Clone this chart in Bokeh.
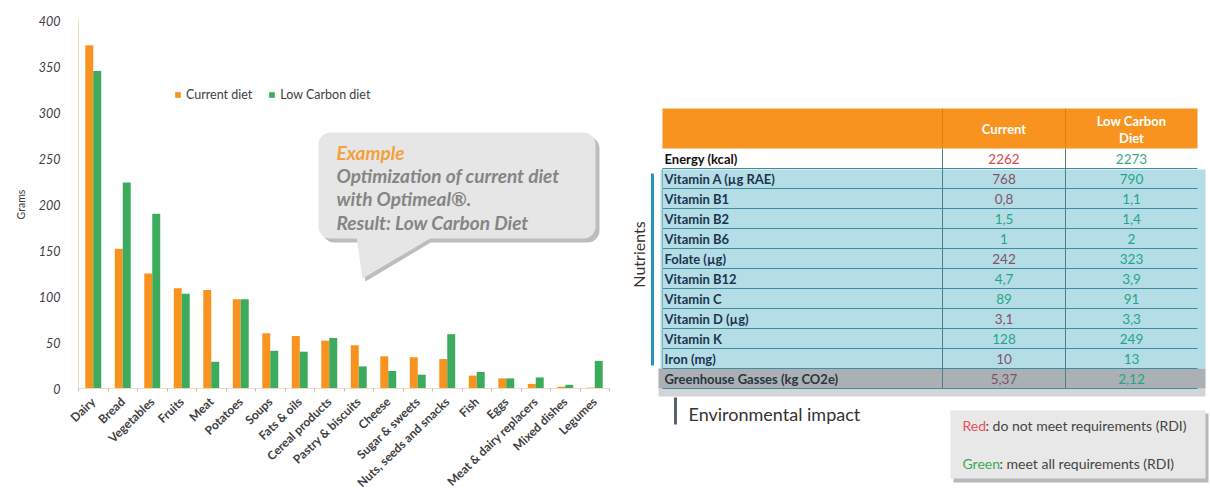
import math
from bokeh.plotting import figure
from bokeh.models import (Range1d, Legend, LegendItem, ColumnDataSource, FixedTicker)
from bokeh.core.properties import value
from bokeh.embed import file_html
from bokeh.resources import INLINE

# ---------------- data ----------------
categories = ["Dairy", "Bread", "Vegetables", "Fruits", "Meat", "Potatoes", "Soups",
              "Fats & oils", "Cereal products", "Pastry & biscuits", "Cheese",
              "Sugar & sweets", "Nuts, seeds and snacks", "Fish", "Eggs",
              "Meat & dairy replacers", "Mixed dishes", "Legumes"]
current_diet = [373, 152, 125, 109, 107, 97, 60, 57, 52, 47, 35, 34, 32, 14, 11, 5, 2, 1]
low_carbon_diet = [345, 224, 190, 103, 29, 97, 41, 40, 55, 24, 19, 15, 59, 18, 11, 12, 4, 30]
y_ticks = [0, 50, 100, 150, 200, 250, 300, 350, 400]

table_header = ["Current", "Low Carbon\nDiet"]
nutrient_labels = ["Energy (kcal)", "Vitamin A (µg RAE)", "Vitamin B1", "Vitamin B2",
                   "Vitamin B6", "Folate (µg)", "Vitamin B12", "Vitamin C",
                   "Vitamin D (µg)", "Vitamin K", "Iron (mg)",
                   "Greenhouse Gasses (kg CO2e)"]
current_values = ["2262", "768", "0,8", "1,5", "1", "242", "4,7", "89", "3,1", "128", "10", "5,37"]
low_carbon_values = ["2273", "790", "1,1", "1,4", "2", "323", "3,9", "91", "3,3", "249", "13", "2,12"]
current_meets = [False, False, False, True, True, False, True, True, False, True, False, False]
low_carbon_meets = [True] * 12

ORANGE = "#F7931E"
GREEN = "#3DAB5D"
FONT = "Lato"

# ---------------- canvas / chart geometry (pixels) ----------------
W, H = 1210, 494
AX_X, AX_Y0, AX_YTOP = 78, 388, 20          # axis origin and top of the value axis
CAT_PX = (609 - AX_X) / len(categories)     # width of one category
Y_MAX = 400
G_PX = (AX_Y0 - AX_YTOP) / Y_MAX            # pixels per gram

ncat = len(categories)
centers = [i + 0.5 for i in range(ncat)]
BW = 0.27
src = ColumnDataSource(dict(xc=[c - BW / 2 for c in centers], xl=[c + BW / 2 for c in centers],
                            cur=current_diet, low=low_carbon_diet))

p = figure(width=W, height=H,
           x_range=Range1d(-AX_X / CAT_PX, (W - AX_X) / CAT_PX),
           y_range=Range1d(-(H - AX_Y0) / G_PX, Y_MAX + AX_YTOP / G_PX),
           output_backend="svg", toolbar_location=None, min_border=0)
p.xgrid.grid_line_color = None
p.ygrid.grid_line_color = None
p.outline_line_color = None

# pixel coordinate system for the decorations and the table (y negated: downwards)
p.extra_x_ranges = {"px": Range1d(0, W)}
p.extra_y_ranges = {"py": Range1d(-H, 0)}
kw = dict(x_range_name="px", y_range_name="py")

# ---------------- bars ----------------
r1 = p.vbar(x="xc", top="cur", width=BW, source=src, fill_color=ORANGE, line_color=None)
r2 = p.vbar(x="xl", top="low", width=BW, source=src, fill_color=GREEN, line_color=None)

ya = p.yaxis[0]
ya.fixed_location = 0
ya.bounds = (0, Y_MAX)
ya.ticker = FixedTicker(ticks=y_ticks)
ya.major_tick_line_color = None
ya.minor_tick_line_color = None
ya.axis_line_color = "#EEDDBB"
ya.major_label_text_font = FONT
ya.major_label_text_font_style = "italic"
ya.major_label_text_font_size = "12.5px"
ya.major_label_text_color = "#404040"
ya.major_label_standoff = 12
ya.axis_label = "Grams"
ya.axis_label_text_font = FONT
ya.axis_label_text_font_size = "10.5px"
ya.axis_label_text_font_style = "normal"
ya.axis_label_text_color = "#404040"
ya.axis_label_standoff = 9

xa = p.xaxis[0]
xa.fixed_location = 0
xa.bounds = (0, ncat)
xa.ticker = FixedTicker(ticks=centers, minor_ticks=list(range(ncat + 1)))
xa.major_label_overrides = {c: lab for c, lab in zip(centers, categories)}
xa.axis_line_color = "#EEDDBB"
xa.major_tick_line_color = None
xa.minor_tick_line_color = "#BBBBBB"
xa.minor_tick_in = 0
xa.minor_tick_out = 3
xa.major_label_orientation = 0.77
xa.major_label_text_font = FONT
xa.major_label_text_font_style = "bold"
xa.major_label_text_font_size = "12px"
xa.major_label_text_color = "#404040"
xa.major_label_standoff = 5

legend = Legend(items=[LegendItem(label="Current diet", renderers=[r1]),
                       LegendItem(label="Low Carbon diet", renderers=[r2])],
                orientation="horizontal", location=(174, 392),
                glyph_width=7, glyph_height=7, label_standoff=5, spacing=16,
                padding=0, margin=0, label_height=12,
                label_text_font=FONT, label_text_font_size="12.5px",
                label_text_color="#404040",
                border_line_color=None, background_fill_alpha=0)
p.add_layout(legend)

# ---------------- callout ----------------
p.quad(left=[322], right=[599], top=[-136], bottom=[-242], fill_color="#BDBDBD",
       line_color=None, border_radius=12, **kw)
p.patch(x=[358, 437, 365], y=[-238, -238, -281], fill_color="#BDBDBD", line_color=None, **kw)
p.patch(x=[356, 433, 362], y=[-236, -236, -278], fill_color="#E6E6E6", line_color=None, **kw)
p.quad(left=[318], right=[595], top=[-132], bottom=[-238], fill_color="#E6E6E6",
       line_color=None, border_radius=12, **kw)
p.text(x=[336], y=[-152], text=["Example"], text_color="#F2A23C",
       text_font=value(FONT), text_font_style="bold italic", text_font_size="19px",
       text_baseline="middle", **kw)
p.text(x=[336, 336, 336], y=[-175, -198, -222],
       text=["Optimization  of current diet", "with Optimeal®.", "Result: Low Carbon Diet"],
       text_color="#858585", text_font=value(FONT), text_font_style="bold italic",
       text_font_size="19px", text_baseline="middle", **kw)

# ---------------- table ----------------
TL, TR, C1, C2 = 662, 1197, 942, 1065
HEAD_T, HEAD_B, RH = 108, 148, 20
n = len(nutrient_labels)
row_top = [HEAD_B + RH * i for i in range(n)]
row_mid = [t + RH / 2 for t in row_top]
last = row_top[n - 1]

p.quad(left=[660], right=[1205], top=[-(row_top[1] + 1)], bottom=[-last],
       fill_color="#B5DDE6", line_color=None, **kw)
p.quad(left=[658], right=[1205], top=[-(last + RH)], bottom=[-(last + RH + 8)],
       fill_color="#D3D6D8", line_color=None, **kw)
p.quad(left=[658], right=[1205], top=[-last], bottom=[-(last + RH)],
       fill_color="#AAB0B4", line_color=None, **kw)
p.quad(left=[TL], right=[TR], top=[-row_top[0]], bottom=[-(row_top[0] + RH)],
       fill_color="#FFFFFF", line_color=None, **kw)
p.quad(left=[TL], right=[TR], top=[-HEAD_T], bottom=[-HEAD_B], fill_color="#F7931E",
       line_color=None, **kw)
hl_y = [-(row_top[i]) for i in range(1, n)] + [-(last + RH)]
p.segment(x0=[TL] * len(hl_y), x1=[TR] * len(hl_y), y0=hl_y, y1=hl_y,
          line_color="#3E8CA2", line_width=1, **kw)
p.segment(x0=[C1, C2], x1=[C1, C2], y0=[-HEAD_B] * 2, y1=[-(last + RH)] * 2,
          line_color="#4A7F8E", line_width=1, **kw)
p.segment(x0=[C1, C2], x1=[C1, C2], y0=[-HEAD_T] * 2, y1=[-HEAD_B] * 2,
          line_color="#E0800F", line_width=1, **kw)
p.segment(x0=[TL], x1=[TL], y0=[-row_top[1]], y1=[-last],
          line_color="#7DB8C8", line_width=1, **kw)

p.text(x=[(C1 + C2) / 2], y=[-128], text=[table_header[0]], text_color="white",
       text_font=value(FONT), text_font_style="bold", text_font_size="13px",
       text_align="center", text_baseline="middle", **kw)
hdr2 = table_header[1].split("\n")
p.text(x=[(C2 + TR) / 2] * 2, y=[-120, -137], text=hdr2, text_color="white",
       text_font=value(FONT), text_font_style="bold", text_font_size="13px",
       text_align="center", text_baseline="middle", **kw)

lab_colors = ["#111111"] + ["#1B3550"] * (n - 2) + ["#2A3540"]
p.text(x=[TL + 2] * n, y=[-m for m in row_mid], text=nutrient_labels,
       text_color=lab_colors, text_font=value(FONT), text_font_style="bold",
       text_font_size="13px", text_baseline="middle", **kw)

RED_W, RED_B, GRN_W, GRN_B = "#D9474E", "#7E5468", "#3AA57A", "#22A68A"
cur_col = [(GRN_W if ok else RED_W) if i == 0 else (GRN_B if ok else RED_B)
           for i, ok in enumerate(current_meets)]
low_col = [(GRN_W if ok else RED_W) if i == 0 else (GRN_B if ok else RED_B)
           for i, ok in enumerate(low_carbon_meets)]
p.text(x=[(C1 + C2) / 2] * n, y=[-m for m in row_mid], text=current_values,
       text_color=cur_col, text_font=value(FONT), text_font_size="13.5px",
       text_align="center", text_baseline="middle", **kw)
p.text(x=[(C2 + TR) / 2] * n, y=[-m for m in row_mid], text=low_carbon_values,
       text_color=low_col, text_font=value(FONT), text_font_size="13.5px",
       text_align="center", text_baseline="middle", **kw)

# Nutrients bracket
p.segment(x0=[652], x1=[652], y0=[-173], y1=[-365], line_color="#2196B6", line_width=3, **kw)
p.text(x=[638], y=[-254], text=["Nutrients"], angle=math.pi / 2, text_color="#333333",
       text_font=value(FONT), text_font_size="16px", text_align="center",
       text_baseline="middle", **kw)

# Environmental impact
p.segment(x0=[675], x1=[675], y0=[-397], y1=[-424], line_color="#55616E", line_width=3, **kw)
p.text(x=[688], y=[-413], text=["Environmental impact"], text_color="#333333",
       text_font=value(FONT), text_font_size="18px", text_baseline="middle", **kw)

# Red / Green note box
p.quad(left=[953], right=[1208], top=[-413], bottom=[-482], fill_color="#B8B8B8",
       line_color=None, **kw)
p.quad(left=[950], right=[1205], top=[-410], bottom=[-478], fill_color="#E8E8E8",
       line_color=None, **kw)
p.text(x=[962], y=[-425], text=["Red"], text_color="#E8505B", text_font=value(FONT),
       text_font_size="14px", text_baseline="middle", **kw)
p.text(x=[985], y=[-425], text=[": do not meet requirements (RDI)"], text_color="#444444",
       text_font=value(FONT), text_font_size="14px", text_baseline="middle", **kw)
p.text(x=[962], y=[-463], text=["Green"], text_color="#3AAA5A", text_font=value(FONT),
       text_font_size="14px", text_baseline="middle", **kw)
p.text(x=[999], y=[-463], text=[": meet all requirements (RDI)"], text_color="#444444",
       text_font=value(FONT), text_font_size="14px", text_baseline="middle", **kw)

open("out.html", "w").write(file_html(p, INLINE))
